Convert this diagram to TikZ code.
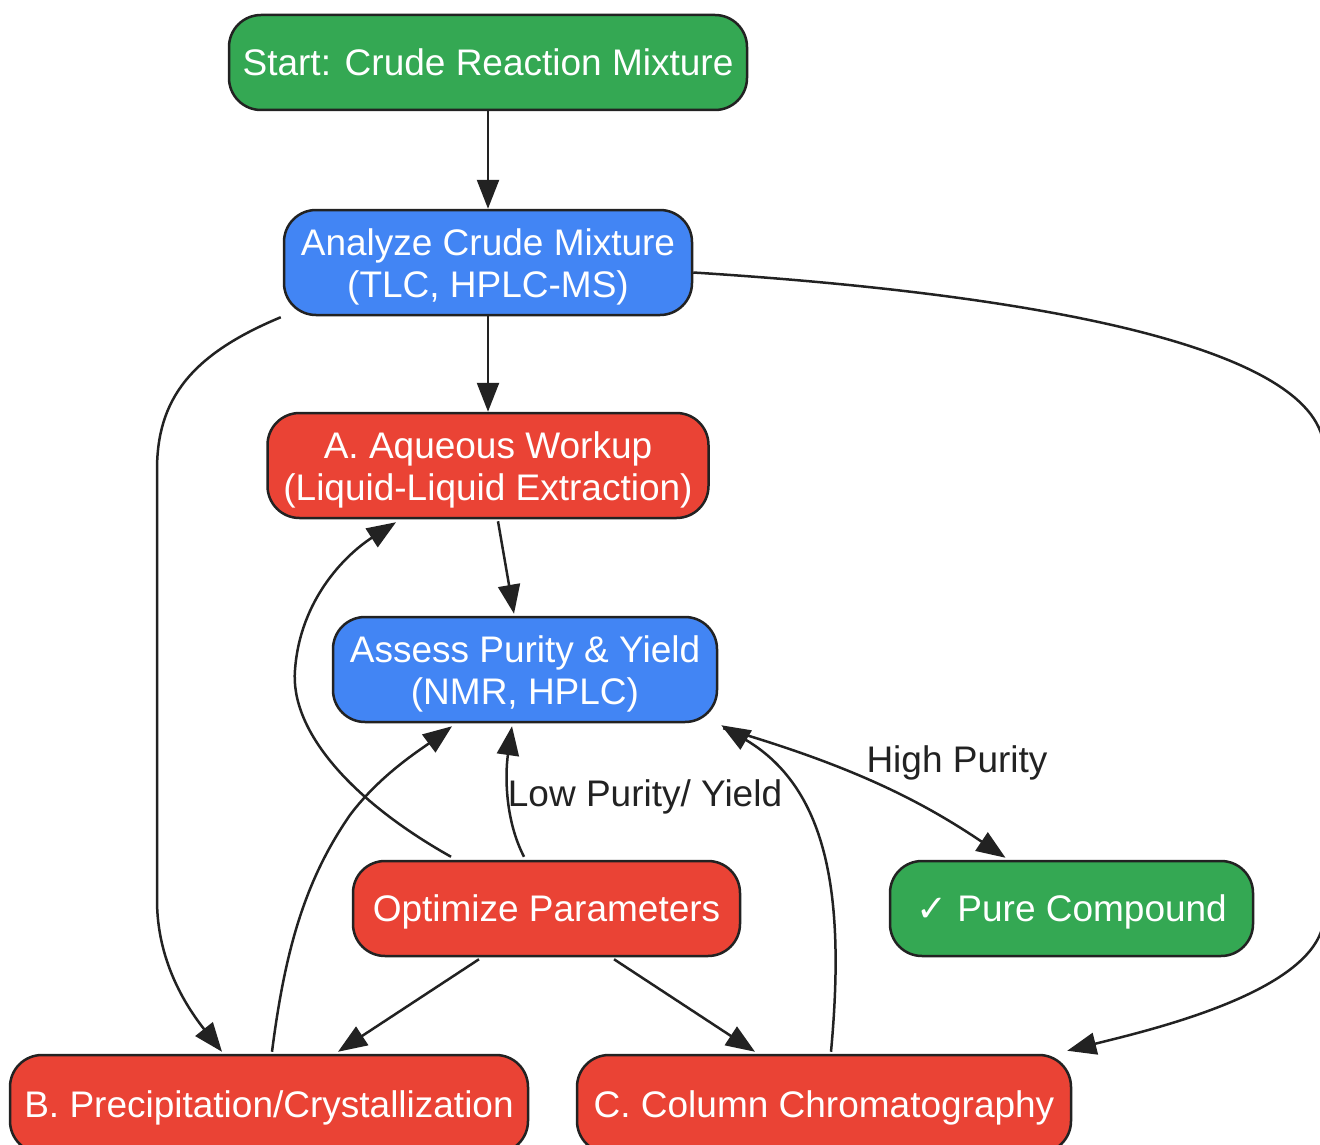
\documentclass[tikz,border=0pt]{standalone}
\usepackage{fontspec}
\setmainfont{Liberation Sans}
\newfontfamily\symfont{DejaVu Sans}
\usetikzlibrary{arrows.meta,calc}
\definecolor{grn}{HTML}{34A853}
\definecolor{blu}{HTML}{4285F4}
\definecolor{rd}{HTML}{EA4335}
\definecolor{edge}{HTML}{222222}
\newcommand\twoline[1]{\raisebox{0pt}[27pt][42pt]{\renewcommand\arraystretch{1}\begin{tabular}[t]{@{}c@{}}#1\end{tabular}}}
\newcommand\oneline[1]{\raisebox{0pt}[26.5pt][0pt]{#1}}
\begin{document}
\begin{tikzpicture}[x=1pt,y=-1pt,
  box/.style={draw=edge, line width=2.5pt, rounded corners=32pt, text=white,
    font=\fontsize{37}{42}\selectfont, inner sep=0pt},
  conn/.style={draw=edge, line width=2.5pt, -{Triangle[length=29pt,width=22pt]}},
  lbl/.style={text=edge, font=\fontsize{37}{42}\selectfont, inner sep=0pt}]
\clip (0,0) rectangle (1320,1145);
\fill[white] (0,0) rectangle (1320,1145);

\node[box, fill=grn, minimum width=518pt, minimum height=95pt] (start) at (488,62.5) {\oneline{Start: Crude Reaction Mixture}};
\node[box, fill=blu, minimum width=408pt, minimum height=105pt] (analyze) at (488,262.5) {\twoline{Analyze Crude Mixture\\(TLC, HPLC-MS)}};
\node[box, fill=rd, minimum width=441pt, minimum height=105pt] (A) at (488,465.5) {\twoline{A. Aqueous Workup\\(Liquid-Liquid Extraction)}};
\node[box, fill=blu, minimum width=384pt, minimum height=105pt] (assess) at (525,669.5) {\twoline{Assess Purity \& Yield\\(NMR, HPLC)}};
\node[box, fill=rd, minimum width=387pt, minimum height=95pt] (opt) at (546.5,908.5) {\oneline{Optimize Parameters}};
\node[box, fill=grn, minimum width=363pt, minimum height=95pt] (pure) at (1071.5,908.5) {\oneline{{\symfont ✓} Pure Compound}};
\node[box, fill=rd, minimum width=518pt, minimum height=98pt] (B) at (269,1104) {\oneline{B. Precipitation/Crystallization}};
\node[box, fill=rd, minimum width=494pt, minimum height=98pt] (C) at (824,1104) {\oneline{C. Column Chromatography}};

\draw[conn] (start.south) -- (analyze.north);
\draw[conn] (analyze.south) -- (A.north);
\draw[conn] ($(analyze.south west)+(-2,1)$) .. controls (190,355) and (157,400) .. (157,470)
  -- (157,900) .. controls (157,960) and (185,1005) .. ($(B.north)+(-47,-2)$);
\draw[conn] ($(analyze.east)+(0,10)$) .. controls (1050,295) and (1322,350) .. (1324,450)
  -- (1324,915) .. controls (1324,990) and (1150,1030) .. ($(C.north east)+(-5,-3)$);
\draw[conn] ($(A.south)+(10,2)$) -- ($(assess.north)+(-11,-2)$);
\draw[conn] ($(assess.south east)+(5,5)$) .. controls (850,765) and (920,800) .. ($(pure.north)+(-66,-2)$);
\node[lbl] (hp) at (957,759.5) {\oneline{High Purity}};
\draw[conn] ($(opt.north)+(-95.5,-3)$) .. controls (350,800) and (290,730) .. (295,670)
  .. controls (300,600) and (345,555) .. ($(A.south)+(-92,3)$);
\draw[conn] ($(opt.north)+(-22.5,-3)$) .. controls (505,820) and (505,775) .. ($(assess.south)+(-13,3)$);
\node[lbl] (lp) at (645,793) {\oneline{Low Purity/ Yield}};
\draw[conn] ($(B.north)+(3,-2)$) .. controls (285,950) and (305,880) .. (350,815)
  .. controls (380,775) and (420,750) .. ($(assess.south)+(-73,3)$);
\draw[conn] ($(opt.south)+(-67.5,2)$) -- ($(B.north)+(69,-2)$);
\draw[conn] ($(opt.south)+(67.5,2)$) -- ($(C.north)+(-69,-2)$);
\draw[conn] ($(C.north)+(7,-2)$) .. controls (845,900) and (830,790) .. ($(assess.south east)+(3,2)$);
\end{tikzpicture}
\end{document}
